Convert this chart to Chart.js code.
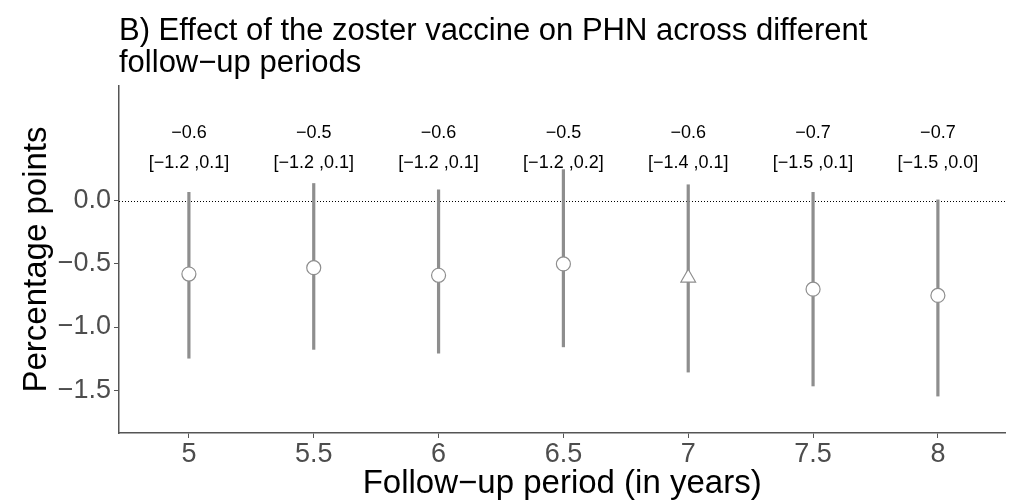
<!DOCTYPE html>
<html>
<head>
<meta charset="utf-8">
<script src="https://cdn.jsdelivr.net/npm/chart.js"></script>
<style>
    html, body {margin: 0; padding: 0; background: #fff;}
    canvas {display: block;}
</style>
</head>
<body>
<canvas id="chart" width="1015" height="504"></canvas>
<script>
// Follow-up period (years) and estimated effect with 95% CI (percentage points)
const years = [5, 5.5, 6, 6.5, 7, 7.5, 8];
const estimate = [-0.58, -0.53, -0.59, -0.50, -0.61, -0.70, -0.75];
const lower = [-1.25, -1.18, -1.21, -1.16, -1.36, -1.47, -1.55];
const upper = [0.07, 0.14, 0.09, 0.25, 0.13, 0.07, 0.01];
const estLabels = ['−0.6', '−0.5', '−0.6', '−0.5', '−0.6', '−0.7', '−0.7'];
const ciLabels = ['[−1.2 ,0.1]', '[−1.2 ,0.1]', '[−1.2 ,0.1]', '[−1.2 ,0.2]', '[−1.4 ,0.1]', '[−1.5 ,0.1]', '[−1.5 ,0.0]'];
const markers = ['circle', 'circle', 'circle', 'circle', 'triangle', 'circle', 'circle'];
const xTicks = [5, 5.5, 6, 6.5, 7, 7.5, 8];
const yTicks = [-1.5, -1.0, -0.5, 0.0];

const FONT = '"Liberation Sans", Arial, Helvetica, sans-serif';
const GREY = '#8e8e8e';

const fmtY = v => (v < 0 ? '−' : '') + Math.abs(v).toFixed(1);

// error bars, zero line, labels above each period and the title
const extras = {
    id: 'extras',
    beforeDatasetsDraw(chart) {
        const {ctx, chartArea, scales: {x, y}} = chart;
        ctx.save();
        // dotted reference line at zero
        ctx.strokeStyle = '#000';
        ctx.lineWidth = 1;
        ctx.setLineDash([1, 2]);
        ctx.beginPath();
        ctx.moveTo(chartArea.left, Math.round(y.getPixelForValue(0)) + 0.5);
        ctx.lineTo(chartArea.right, Math.round(y.getPixelForValue(0)) + 0.5);
        ctx.stroke();
        ctx.setLineDash([]);
        // confidence intervals
        ctx.strokeStyle = GREY;
        ctx.lineWidth = 3.2;
        years.forEach((yr, i) => {
            const px = x.getPixelForValue(yr);
            ctx.beginPath();
            ctx.moveTo(px, y.getPixelForValue(lower[i]));
            ctx.lineTo(px, y.getPixelForValue(upper[i]));
            ctx.stroke();
        });
        // estimate / CI labels
        ctx.fillStyle = '#000';
        ctx.font = '18px ' + FONT;
        ctx.textAlign = 'center';
        ctx.textBaseline = 'middle';
        years.forEach((yr, i) => {
            const px = x.getPixelForValue(yr);
            ctx.fillText(estLabels[i], px, y.getPixelForValue(0.54));
            ctx.fillText(ciLabels[i], px, y.getPixelForValue(0.30));
        });
        ctx.restore();
    },
    afterDraw(chart) {
        const {ctx, chartArea} = chart;
        ctx.save();
        ctx.fillStyle = '#000';
        ctx.font = '31px ' + FONT;
        ctx.textAlign = 'left';
        ctx.textBaseline = 'alphabetic';
        ctx.fillText('B) Effect of the zoster vaccine on PHN across different', chartArea.left, 40);
        ctx.fillText('follow−up periods', chartArea.left, 72);
        ctx.restore();
    }
};

new Chart(document.getElementById('chart'), {
    type: 'scatter',
    data: {
        datasets: [{
            data: years.map((yr, i) => ({x: yr, y: estimate[i]})),
            pointStyle: markers,
            pointRadius: markers.map(m => m === 'triangle' ? 8.5 : 7),
            pointBackgroundColor: '#fff',
            pointBorderColor: GREY,
            pointBorderWidth: 1.2,
            pointHoverRadius: 7
        }]
    },
    options: {
        responsive: false,
        animation: false,
        events: [],
        layout: {padding: {top: 86, right: 9, left: 0, bottom: 0}},
        plugins: {
            legend: {display: false},
            tooltip: {enabled: false}
        },
        scales: {
            x: {
                type: 'linear',
                min: 4.72,
                max: 8.27,
                afterBuildTicks: scale => {
                    scale.ticks = xTicks.map(v => ({value: v}));
                },
                afterFit: scale => {
                    scale.height = 71;
                },
                border: {display: true, color: '#555', width: 1.5},
                grid: {drawOnChartArea: false, color: '#555', tickLength: 5, lineWidth: 1},
                ticks: {
                    color: '#4d4d4d',
                    font: {family: FONT, size: 27},
                    padding: 0,
                    maxRotation: 0,
                    callback: v => String(v)
                },
                title: {
                    display: true,
                    text: 'Follow−up period (in years)',
                    color: '#000',
                    font: {family: FONT, size: 33},
                    padding: {top: 0, bottom: 0}
                }
            },
            y: {
                type: 'linear',
                min: -1.84,
                max: 0.91,
                afterBuildTicks: scale => {
                    scale.ticks = yTicks.map(v => ({value: v}));
                },
                afterFit: scale => {
                    scale.width = 119;
                },
                border: {display: true, color: '#555', width: 1.5},
                grid: {drawOnChartArea: false, color: '#555', tickLength: 5, lineWidth: 1},
                ticks: {
                    color: '#4d4d4d',
                    font: {family: FONT, size: 27},
                    padding: 3,
                    callback: v => fmtY(v)
                },
                title: {
                    display: true,
                    text: 'Percentage points',
                    color: '#000',
                    font: {family: FONT, size: 33},
                    padding: {top: 17, bottom: 0}
                }
            }
        }
    },
    plugins: [extras]
});
</script>
</body>
</html>
